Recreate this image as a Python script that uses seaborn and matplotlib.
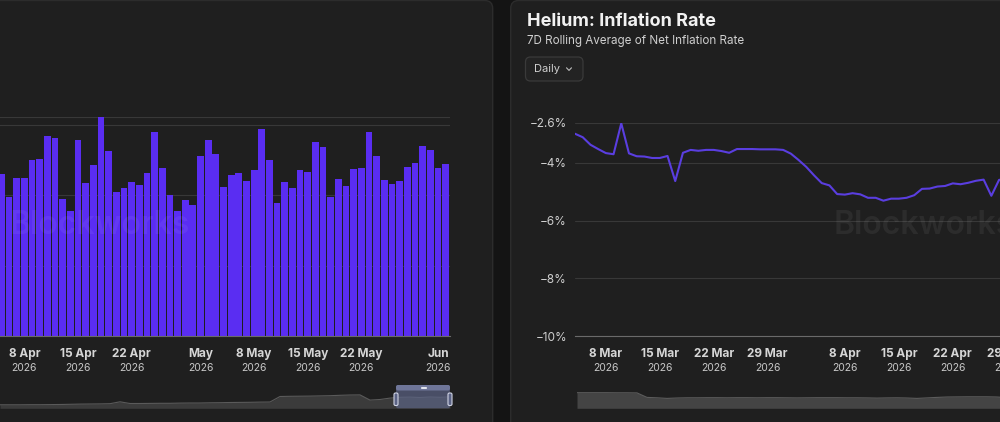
import pandas as pd
import matplotlib.pyplot as plt
import matplotlib.dates as mdates
from matplotlib.patches import FancyBboxPatch
from matplotlib.lines import Line2D
import seaborn as sns

# ---- data ----
# left panel: daily bars (y units arbitrary, gridlines every 10)
bar_dates = pd.date_range("2026-04-05", "2026-06-02", freq="D")
bar_values = [23.0, 19.7, 22.4, 22.4, 25.0, 25.1, 28.4, 28.1, 19.4, 17.7,
              27.8, 21.7, 24.3, 31.1, 26.3, 20.5, 21.0, 21.9, 21.5, 23.2,
              29.0, 23.8, 20.0, 17.7, 19.3, 18.6, 25.6, 27.9, 25.9, 21.1,
              22.8, 23.2, 22.0, 23.6, 29.4, 25.0, 18.9, 21.9, 21.0, 23.6,
              23.3, 27.6, 26.9, 19.8, 22.3, 21.3, 23.7, 23.8, 28.9, 25.6,
              22.1, 21.6, 22.0, 24.0, 24.5, 27.0, 26.4, 23.8, 24.4]
bar_tick_dates = ["2026-04-08", "2026-04-15", "2026-04-22", "2026-05-01",
                  "2026-05-08", "2026-05-15", "2026-05-22", "2026-06-01"]
bar_tick_labels = ["8 Apr", "15 Apr", "22 Apr", "May", "8 May", "15 May", "22 May", "Jun"]

# left navigator overview series
left_nav = [3.5, 3.5, 3.5, 3.6, 3.6, 3.7, 3.8, 4.0, 4.2, 4.3,
            4.4, 4.6, 6.5, 4.8, 4.8, 4.9, 5.0, 5.0, 5.2, 5.3,
            5.3, 5.5, 5.6, 5.8, 5.9, 6.0, 6.2, 6.3, 11.8, 12.0,
            12.1, 12.2, 12.4, 12.6, 13.0, 13.3, 13.4, 8.2, 8.8, 10.2,
            11.0, 11.2, 10.8, 11.3, 11.0, 11.4]

# right panel: 7D rolling average of net inflation rate (%)
line_values = [-2.99, -3.11, -3.37, -3.52, -3.66, -3.70, -2.63, -3.67, -3.77, -3.78,
               -3.83, -3.83, -3.76, -4.63, -3.65, -3.55, -3.58, -3.55, -3.55, -3.59,
               -3.65, -3.52, -3.52, -3.52, -3.53, -3.53, -3.53, -3.55, -3.68, -3.90,
               -4.14, -4.43, -4.70, -4.78, -5.08, -5.10, -5.05, -5.09, -5.21, -5.21,
               -5.31, -5.24, -5.24, -5.21, -5.12, -4.90, -4.89, -4.82, -4.80, -4.71,
               -4.74, -4.69, -4.62, -4.58, -5.14, -4.59, -4.55]
line_dates = pd.date_range("2026-03-04", periods=len(line_values), freq="D")
line_tick_dates = ["2026-03-08", "2026-03-15", "2026-03-22", "2026-03-29",
                   "2026-04-08", "2026-04-15", "2026-04-22", "2026-04-29"]
line_tick_labels = ["8 Mar", "15 Mar", "22 Mar", "29 Mar", "8 Apr", "15 Apr", "22 Apr", "29 Apr"]
y_ticks = [-10, -8, -6, -4, -2.6]
y_tick_labels = ["\u221210%", "\u22128%", "\u22126%", "\u22124%", "\u22122.6%"]

# right navigator overview series
right_nav = [15.6, 15.6, 15.6, 15.6, 15.5, 15.5, 15.4, 10.9, 10.5, 9.9,
             10.3, 10.5, 10.5, 10.6, 10.6, 10.5, 10.6, 10.6, 10.5, 10.6,
             10.6, 10.5, 10.4, 10.5, 10.6, 10.6, 10.6, 10.5, 10.5, 10.4,
             10.2, 10.4, 10.5, 10.3, 9.9, 10.4, 10.9, 11.3, 11.4, 11.5,
             11.5, 11.5, 11.3, 10.6, 10.8]

# ---- style ----
BG = "#141414"
PANEL = "#1f1f1f"
GRID = "#383838"
AXIS = "#6a6a6a"
TXT = "#d6d6d6"
BAR = "#5a2df2"
LINE = "#5a3ee0"

sns.set_theme(style="dark", rc={"axes.facecolor": "none", "figure.facecolor": BG})
plt.rcParams["font.family"] = ["Inter", "DejaVu Sans"]

W, H = 1000, 422
fig = plt.figure(figsize=(W / 100, H / 100), dpi=100)


def box(x0, y0, x1, y1):
    # pixel box (top-left origin) -> figure fraction rect
    return [x0 / W, 1 - y1 / H, (x1 - x0) / W, (y1 - y0) / H]


def px_patch(x0, y0, x1, y1, r=0.0, **kw):
    p = FancyBboxPatch((x0 / 100, (H - y1) / 100), (x1 - x0) / 100, (y1 - y0) / 100,
                       boxstyle=f"round,pad=0,rounding_size={r / 100}",
                       transform=fig.dpi_scale_trans, **kw)
    fig.add_artist(p)
    return p


def px_line(xs, ys, **kw):
    ln = Line2D([x / 100 for x in xs], [(H - y) / 100 for y in ys],
                transform=fig.dpi_scale_trans, **kw)
    fig.add_artist(ln)


def date_ticks(ax, positions, labels):
    ax.set_xticks(positions)
    ax.tick_params(axis="x", length=3.6, width=0.8, color=AXIS, labelbottom=False)
    for pos, lab in zip(positions, labels):
        ax.annotate(lab, xy=(pos, 0), xycoords=("data", "axes fraction"),
                    xytext=(0, -18 * 0.72), textcoords="offset points",
                    ha="center", va="center", fontsize=8.5, fontweight="bold",
                    color=TXT, annotation_clip=False)
        ax.annotate("2026", xy=(pos, 0), xycoords=("data", "axes fraction"),
                    xytext=(0, -32 * 0.72), textcoords="offset points",
                    ha="center", va="center", fontsize=7.5, color="#c8c8c8",
                    annotation_clip=False)


# panels
px_patch(-30, 0.5, 492.7, 460, r=8, fc=PANEL, ec="#2c2c2c", lw=1, zorder=-10)
px_patch(510.7, 0.5, 1030, 460, r=8, fc=PANEL, ec="#2c2c2c", lw=1, zorder=-10)

# ---- left panel: bars ----
ax1 = fig.add_axes(box(-2.5, 117, 449.5, 336))
sns.barplot(x=bar_dates.strftime("%Y-%m-%d"), y=bar_values, ax=ax1,
            color=BAR, saturation=1, width=0.88, linewidth=0, edgecolor="none", zorder=2)
ax1.set_xlim(-0.5, len(bar_values) - 0.5)
ax1.set_ylim(0, max(bar_values))
ax1.set_yticks([0, 10, 20, 30])
ax1.tick_params(axis="y", length=0, labelleft=False)
ax1.grid(axis="y", color=GRID, lw=0.8)
ax1.axhline(max(bar_values), color=GRID, lw=0.8, zorder=1)
ax1.set_axisbelow(True)
for s in ["left", "right", "top"]:
    ax1.spines[s].set_visible(False)
ax1.spines["bottom"].set_color(AXIS)
ax1.spines["bottom"].set_linewidth(0.8)
ax1.spines["bottom"].set_zorder(3)
ax1.set_xlabel("")
ax1.set_ylabel("")
bar_pos = [bar_dates.get_loc(pd.Timestamp(d)) for d in bar_tick_dates]
date_ticks(ax1, bar_pos, bar_tick_labels)

# left navigator
axn1 = fig.add_axes(box(0, 390, 450, 408.3))
axn1.set_facecolor("#242424")
nav_x = list(range(len(left_nav)))
axn1.fill_between(nav_x, left_nav, 0, color="#3b3b3b", lw=0)
sns.lineplot(x=nav_x, y=left_nav, ax=axn1, color="#5a5a5a", lw=0.8)
axn1.set_xlim(0, len(left_nav) - 1)
axn1.set_ylim(0, 18.3)
axn1.set_axis_off()

# selected window on navigator
px_patch(396, 385, 450, 408.3, r=2, fc="#5b6385", alpha=0.7, ec="none", zorder=5)
px_patch(396, 385, 450, 390.5, r=2, fc="#6f7699", ec="none", zorder=6)
for gy in (386.6, 387.8):
    px_line([420.5, 425.5], [gy, gy], color="#e6e8f0", lw=0.7, zorder=7)
for hx in (396, 450):
    px_patch(hx - 2, 393, hx + 2, 405.5, r=1.5, fc="#5b6385", ec="#d0d4e4", lw=0.8, zorder=7)

fig.text(100 / W, 1 - 226 / H, "Blockworks", ha="center", va="center",
         fontsize=23, fontweight="semibold", color="white", alpha=0.06, zorder=20)

# ---- right panel: inflation line ----
fig.text(527 / W, 1 - 22 / H, "Helium: Inflation Rate", ha="left", va="center",
         fontsize=13, fontweight="bold", color="#f2f2f2")
fig.text(527 / W, 1 - 41 / H, "7D Rolling Average of Net Inflation Rate", ha="left",
         va="center", fontsize=8.4, color="#cfcfcf")
px_patch(525.5, 57, 583, 81, r=5, fc="#232323", ec="#3a3a3a", lw=0.9, zorder=1)
fig.text(534 / W, 1 - 69.5 / H, "Daily", ha="left", va="center", fontsize=8, color="#d0d0d0")
px_line([566.5, 569, 571.5], [67.8, 70.4, 67.8], color="#bdbdbd", lw=0.8, zorder=2)

start = line_dates[0]
ax2 = fig.add_axes(box(575, 122.5, 1250, 336))
sns.lineplot(x=line_dates, y=line_values, ax=ax2, color=LINE, lw=1.5, zorder=3)
ax2.set_xlim(start, start + pd.Timedelta(days=(1250 - 575) / 7.71))
ax2.set_ylim(-10, -2.6)
ax2.set_yticks(y_ticks)
ax2.set_yticklabels(y_tick_labels, fontsize=8.5, color="#cfcfcf")
ax2.tick_params(axis="y", length=0, pad=5.8)
ax2.grid(axis="y", color=GRID, lw=0.8)
ax2.grid(axis="x", visible=False)
ax2.set_axisbelow(True)
for s in ["left", "right", "top"]:
    ax2.spines[s].set_visible(False)
ax2.spines["bottom"].set_color(AXIS)
ax2.spines["bottom"].set_linewidth(0.8)
ax2.set_xlabel("")
ax2.set_ylabel("")
line_pos = [mdates.date2num(pd.Timestamp(d)) for d in line_tick_dates]
date_ticks(ax2, line_pos, line_tick_labels)

fig.text(834 / W, 1 - 226 / H, "Blockworks", ha="left", va="center",
         fontsize=23, fontweight="semibold", color="white", alpha=0.06, zorder=20)

# right navigator
axn2 = fig.add_axes(box(577, 390, 577 + 10 * (len(right_nav) - 1), 408.3))
axn2.set_facecolor("#242424")
nav_x2 = list(range(len(right_nav)))
axn2.fill_between(nav_x2, right_nav, 0, color="#444444", lw=0)
sns.lineplot(x=nav_x2, y=right_nav, ax=axn2, color="#5c5c5c", lw=0.8)
axn2.set_xlim(0, len(right_nav) - 1)
axn2.set_ylim(0, 18.3)
axn2.set_axis_off()

fig.savefig("out.png", dpi=100, facecolor=BG)
